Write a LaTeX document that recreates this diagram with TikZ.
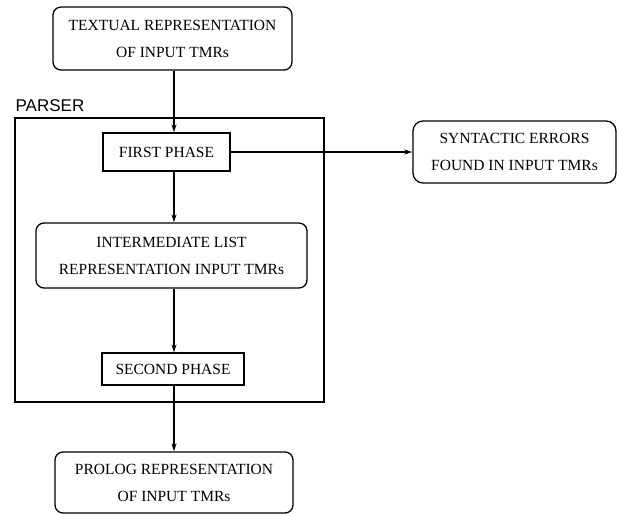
\documentclass[tikz,border=0pt]{standalone}
\usepackage{fontspec}
\setmainfont{Liberation Serif}
\newfontfamily\parserfont{Liberation Sans}
\usetikzlibrary{arrows.meta}

\begin{document}
\begin{tikzpicture}[->,>={Stealth[length=8pt,width=5pt]},x=1pt,y=-1pt,line width=1.3pt,
    every node/.style={font=\fontsize{15.5}{27}\selectfont}]

    \useasboundingbox (0,0) rectangle (617,514);
    \coordinate (spine) at (174,0);

    \node[rectangle,
          draw,
          line width = 1.6pt,
          minimum width = 309pt,
          minimum height = 284pt
          ] (parser) at (169.5,260) {};
    \node[anchor = base west,
          inner sep = 0pt,
          font = \parserfont\fontsize{17}{20}\selectfont
          ] (parserlbl) at (15,111) {PARSER};

    \node[rectangle,
          draw,
          rounded corners = 8pt,
          minimum width = 239pt,
          minimum height = 63pt
          ] (tmr) at (172.5,38.5) {};
    \node[align = center] (tmrtxt) at (tmr.center) {TEXTUAL REPRESENTATION\\OF INPUT TMRs};

    \node[rectangle,
          draw,
          minimum width = 127pt,
          minimum height = 38pt
          ] (first) at (166.5,152) {};
    \node[] (firsttxt) at (first.center) {FIRST PHASE};

    \node[rectangle,
          draw,
          rounded corners = 10pt,
          minimum width = 203pt,
          minimum height = 62pt
          ] (errs) at (514.5,152) {};
    \node[align = center] (errstxt) at (errs.center) {SYNTACTIC ERRORS\\FOUND IN INPUT TMRs};

    \node[rectangle,
          draw,
          rounded corners = 8pt,
          minimum width = 271pt,
          minimum height = 65pt
          ] (inter) at (171.5,255.5) {};
    \node[align = center] (intertxt) at (inter.center) {INTERMEDIATE LIST\\REPRESENTATION INPUT TMRs};

    \node[rectangle,
          draw,
          minimum width = 142pt,
          minimum height = 32pt
          ] (second) at (173,369) {};
    \node[] (secondtxt) at (second.center) {SECOND PHASE};

    \node[rectangle,
          draw,
          rounded corners = 8pt,
          minimum width = 238pt,
          minimum height = 61pt
          ] (prolog) at (174,482.5) {};
    \node[align = center] (prologtxt) at (prolog.center) {PROLOG REPRESENTATION\\OF INPUT TMRs};


    \path
    %main flow
    (tmr.south -| spine) edge [] (first.north -| spine)
    (first.south -| spine) edge [] (inter.north -| spine)
    (inter.south -| spine) edge [] (second.north -| spine)
    (second.south -| prolog) edge [] (prolog.north)
    %errors
    (first.east) edge [] (errs.west) ;

\end{tikzpicture}
\end{document}
